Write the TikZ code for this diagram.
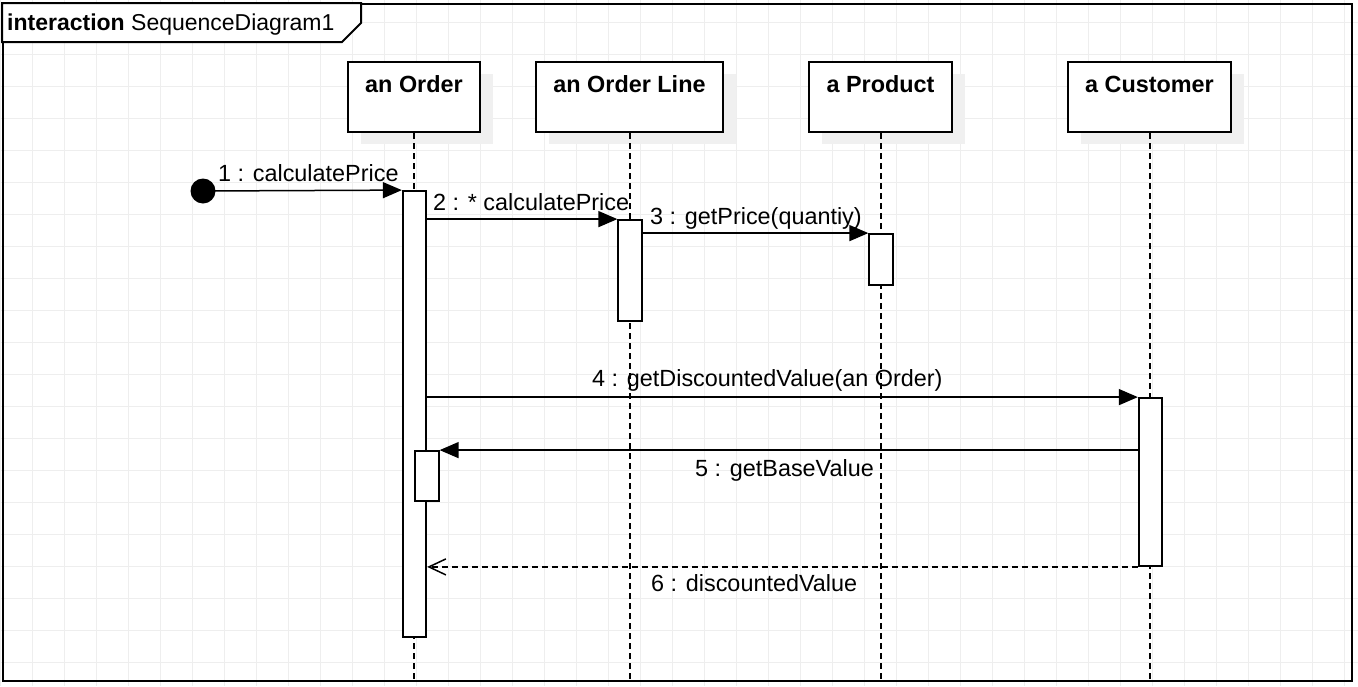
\documentclass[tikz,border=0pt]{standalone}
\usepackage{fontspec}
\setmainfont{Liberation Sans}
\usetikzlibrary{arrows.meta}

\definecolor{gridgray}{HTML}{EEEEEE}
\definecolor{shadowgray}{HTML}{F0F0F0}

\tikzset{
  gridline/.style={draw=gridgray, line width=1pt},
  headbox/.style={draw=black, fill=white, line width=2pt, rectangle, inner sep=0pt},
  headshadow/.style={fill=shadowgray, draw=none, rectangle, inner sep=0pt},
  headtext/.style={anchor=base, inner sep=0pt, font=\fontsize{23.4}{28}\selectfont\bfseries},
  lifeline/.style={draw=black, line width=2pt, dash pattern=on 6pt off 4pt, xshift=1.5pt},
  activation/.style={draw=black, fill=white, line width=1.8pt, rectangle, inner sep=0pt, minimum width=23.5pt},
  msg/.style={draw=black, line width=1.5pt, -{Triangle[length=19pt,width=16pt]}},
  reply/.style={draw=black, line width=1.5pt, dash pattern=on 6pt off 4pt,
    -{Straight Barb[length=17pt,width=16pt,line width=1.5pt]}},
  msglabel/.style={anchor=base west, inner sep=0pt, font=\fontsize{23.4}{28}\selectfont},
  startdot/.style={circle, fill=black, draw=none, minimum size=25pt, inner sep=0pt}
}

\begin{document}
\begin{tikzpicture}[x=1pt, y=-1pt]
  \useasboundingbox (0,0) rectangle (1358,686);
  \fill[white] (0,0) rectangle (1358,686);

  % background grid
  \foreach \gx in {0,32,...,1344} \draw[gridline] (\gx,0) -- (\gx,686);
  \foreach \gy in {22,54,...,662} \draw[gridline] (0,\gy) -- (1358,\gy);

  % interaction frame
  \node[draw=black, line width=2pt, rectangle, inner sep=0pt,
        minimum width=1349pt, minimum height=677pt] (frame) at (677.5,342.5) {};
  \draw[line width=2pt, fill=white] (frame.north west) -- ++(359,0) -- ++(0,20) -- ++(-19,19) -- ++(-340,0) -- cycle;
  \node[anchor=base west, inner sep=0pt, font=\fontsize{23}{28}\selectfont] (title) at (7,30)
       {\textbf{interaction} SequenceDiagram1};

  % lifeline heads with drop shadows
  \node[headshadow, minimum width=132pt, minimum height=70pt] (orderS) at (427,109) {};
  \node[headshadow, minimum width=187pt, minimum height=70pt] (lineS) at (642.5,109) {};
  \node[headshadow, minimum width=143pt, minimum height=70pt] (productS) at (893.5,109) {};
  \node[headshadow, minimum width=163pt, minimum height=70pt] (customerS) at (1162.5,109) {};

  \node[headbox, minimum width=132pt, minimum height=70pt] (order) at (414,97) {};
  \node[headbox, minimum width=187pt, minimum height=70pt] (line) at (629.5,97) {};
  \node[headbox, minimum width=143pt, minimum height=70pt] (product) at (880.5,97) {};
  \node[headbox, minimum width=163pt, minimum height=70pt] (customer) at (1149.5,97) {};

  \node[headtext, yshift=-31pt] (orderT) at (order.north) {an Order};
  \node[headtext, yshift=-31pt] (lineT) at (line.north) {an Order Line};
  \node[headtext, yshift=-31pt] (productT) at (product.north) {a Product};
  \node[headtext, yshift=-31pt] (customerT) at (customer.north) {a Customer};

  % lifelines
  \draw[lifeline] (order.south) -- (order.south |- frame.south);
  \draw[lifeline] (line.south) -- (line.south |- frame.south);
  \draw[lifeline] (product.south) -- (product.south |- frame.south);
  \draw[lifeline] (customer.south) -- (customer.south |- frame.south);

  % activation bars
  \node[activation, minimum height=446pt] (actOrder) at (414.5,414) {};
  \node[activation, minimum height=101pt] (actLine) at (630,270.5) {};
  \node[activation, minimum height=51pt] (actProduct) at (881,259.5) {};
  \node[activation, minimum height=168pt] (actCust) at (1150.5,482) {};
  \node[activation, minimum height=50pt] (actOrder2) at (427,476) {};

  % found message start
  \node[startdot] (start) at (203,191) {};

  % messages
  \draw[msg] (start.center) -- (actOrder.north west);
  \draw[msg] (actLine.north west -| actOrder.east) -- (actLine.north west);
  \draw[msg] (actProduct.north west -| actLine.east) -- (actProduct.north west);
  \draw[msg] (actCust.north west -| actOrder.east) -- (actCust.north west);
  \draw[msg] (actOrder2.north east -| actCust.west) -- (actOrder2.north east);
  \draw[reply] (actCust.south west) -- (actCust.south west -| actOrder.east);

  % message labels
  \node[msglabel] (m1) at (218,181) {1 : calculatePrice};
  \node[msglabel] (m2) at (433,210) {2 : * calculatePrice};
  \node[msglabel] (m3) at (650,224) {3 : getPrice(quantiy)};
  \node[msglabel] (m4) at (592,386) {4 : getDiscountedValue(an Order)};
  \node[msglabel] (m5) at (695,476) {5 : getBaseValue};
  \node[msglabel] (m6) at (651,591) {6 : discountedValue};
\end{tikzpicture}
\end{document}
